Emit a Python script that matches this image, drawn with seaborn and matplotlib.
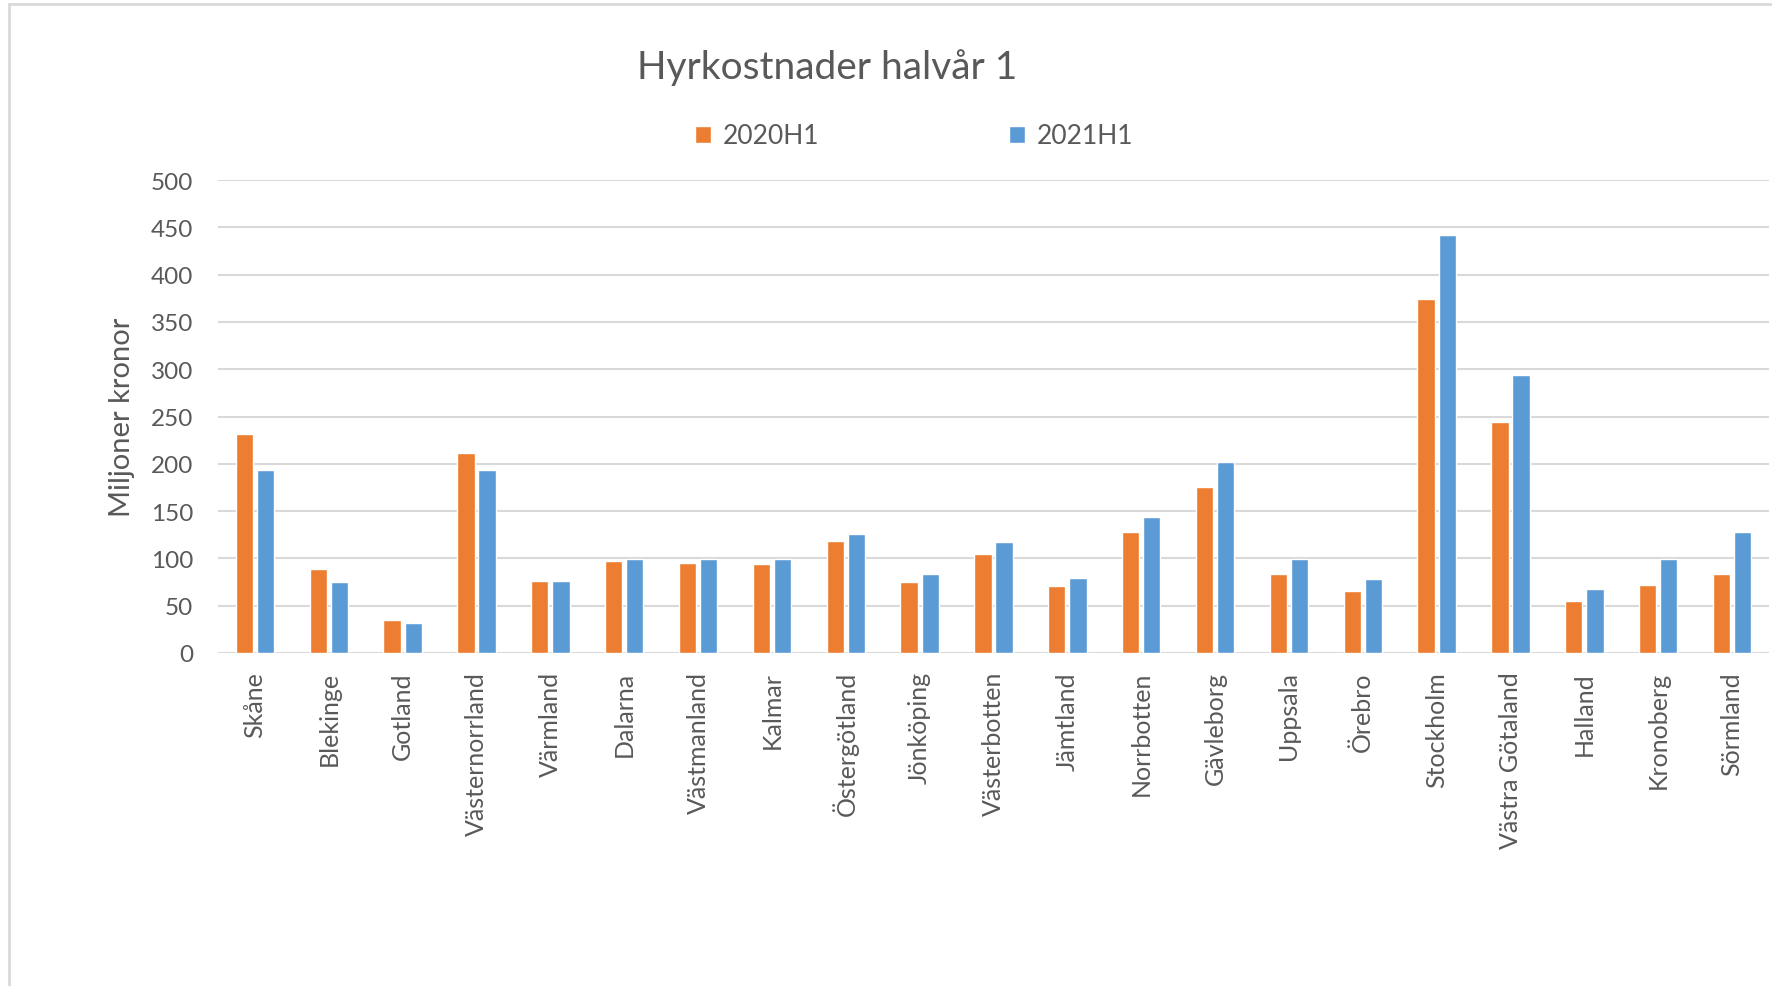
import numpy as np
import pandas as pd
import matplotlib.pyplot as plt
from matplotlib.patches import Rectangle
import seaborn as sns

# Hyrkostnader per region, miljoner kronor (avläst ur originalbilden)
regions = ['Skåne', 'Blekinge', 'Gotland', 'Västernorrland', 'Värmland', 'Dalarna',
           'Västmanland', 'Kalmar', 'Östergötland', 'Jönköping', 'Västerbotten',
           'Jämtland', 'Norrbotten', 'Gävleborg', 'Uppsala', 'Örebro', 'Stockholm',
           'Västra Götaland', 'Halland', 'Kronoberg', 'Sörmland']
h1_2020 = [231, 89, 35, 211, 76, 97, 95, 94, 118, 75, 105, 71, 128, 175, 84, 66, 374, 244, 55, 72, 83]
h1_2021 = [193, 75, 32, 193, 76, 99, 99, 99, 126, 83, 117, 79, 144, 202, 99, 78, 442, 294, 68, 99, 128]
periods = ['2020H1', '2021H1']
colors = ['#ED7D31', '#5B9BD5']
y_ticks = list(range(0, 501, 50))

TEXT = '#595959'
GRID = '#D9D9D9'


def make_df():
    """Builds a long-format DataFrame with one row per region and period."""
    df = pd.DataFrame({'Region': regions, periods[0]: h1_2020, periods[1]: h1_2021})
    return df.melt(id_vars='Region', var_name='Period', value_name='Miljoner kronor')


def rent_chart(df):
    """Draws the clustered bar chart and saves it as out.png."""
    sns.set_style('white')
    plt.rcParams['font.family'] = ['Lato', 'DejaVu Sans']
    fig = plt.figure(figsize=(17.72, 9.87), dpi=100)
    ax = fig.add_axes([218 / 1772, 1 - 654 / 987, 1551 / 1772, 473 / 987])

    sns.barplot(data=df, x='Region', y='Miljoner kronor', hue='Period',
                palette=colors, saturation=1, errorbar=None,
                width=0.57, gap=0.18, ax=ax)

    ax.set_ylim(0, 500)
    ax.set_yticks(y_ticks)
    ax.set_xlim(-0.5, len(regions) - 0.5)
    ax.yaxis.grid(True, color=GRID, linewidth=1.5)
    ax.set_axisbelow(True)
    sns.despine(ax=ax, left=True, bottom=True)
    ax.tick_params(axis='y', length=0, pad=18, labelsize=17.5, labelcolor=TEXT)
    ax.tick_params(axis='x', length=0, pad=13, labelsize=18, labelcolor=TEXT)
    plt.setp(ax.get_xticklabels(), rotation=90, ha='center', va='top')
    ax.set_xlabel('')
    ax.set_ylabel('Miljoner kronor', fontsize=21, color=TEXT, labelpad=11)

    fig.text(827 / 1772, 1 - 68 / 987, 'Hyrkostnader halvår 1', ha='center', va='center',
             fontsize=28, color=TEXT)

    sns.move_legend(ax, 'center', bbox_to_anchor=(914 / 1772, 1 - 137 / 987),
                    bbox_transform=fig.transFigure, ncol=2, frameon=False, title=None,
                    fontsize=19, labelcolor=TEXT, handlelength=0.6, handleheight=0.6,
                    handletextpad=0.45, columnspacing=7.2)

    # light frame of the original chart area (cut at right and bottom)
    fig.add_artist(Rectangle((9 / 1772, -0.1), 1.2, 1.1 - 5 / 987, transform=fig.transFigure,
                             fill=False, edgecolor=GRID, linewidth=2))

    plt.savefig('out.png', dpi=100)


if __name__ == '__main__':
    rent_chart(make_df())
